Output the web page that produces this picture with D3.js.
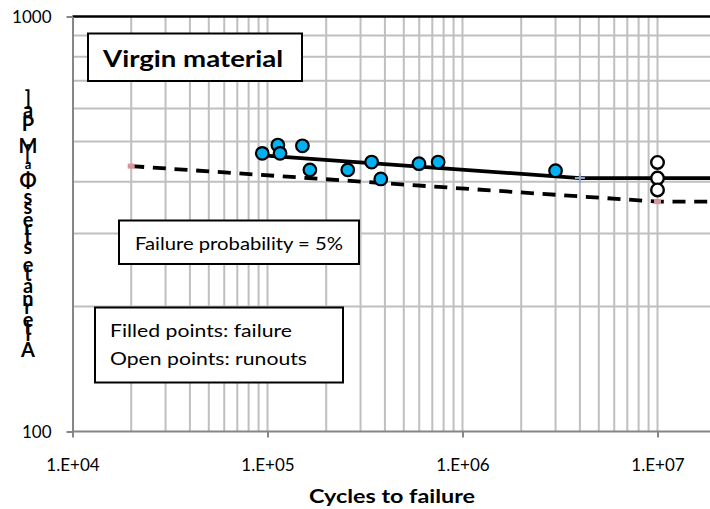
<!DOCTYPE html>
<html><head><meta charset="utf-8">
<script src="https://cdn.jsdelivr.net/npm/d3@7"></script>
<style>body{margin:0;background:#fff}svg{display:block}</style>
</head><body>
<svg id="c" width="710" height="509"></svg>
<script>
// ---- data ----
const failureCycles = [9.4e4, 1.13e5, 1.16e5, 1.51e5, 1.65e5, 2.58e5, 3.42e5, 3.81e5, 5.98e5, 7.5e5, 3.0e6];
const failureStress = [468, 490, 468, 488, 427, 427, 446, 406, 442, 446, 425];
const runoutCycles = [1e7, 1e7, 1e7];
const runoutStress = [445, 408, 382];
const meanCurveCycles = [9.4e4, 4.0e6, 1e8];
const meanCurveStress = [463, 408, 408];
const p5CurveCycles = [2.0e4, 1.0e7, 1e8];
const p5CurveStress = [436, 358, 358];
const kneeCycles = [4.0e6];
const kneeStress = [408];
const p5MarkCycles = [2.0e4, 1.0e7];
const p5MarkStress = [436, 358];
const xTickValues = [1e4, 1e5, 1e6, 1e7];
const xTickLabels = ["1.E+04", "1.E+05", "1.E+06", "1.E+07"];
const yTickValues = [100, 1000];
const yTickLabels = ["100", "1000"];

const svg = d3.select("#c");
const FONT = "Lato, 'Open Sans', sans-serif";
const x = d3.scaleLog().domain([1e4, 1e8]).range([72.5, 852.5]);
const y = d3.scaleLog().domain([100, 1000]).range([431.5, 16.5]);
const xR = 710;

// grid
const g = svg.append("g");
const vgrid = [];
for (let k = 4; k <= 7; k++) for (let m = 1; m <= 9; m++) vgrid.push(m * Math.pow(10, k));
vgrid.push(1e8);
g.selectAll("line.v").data(vgrid.filter(v => v > 1e4 && x(v) < xR + 2)).join("line")
  .attr("x1", d => x(d)).attr("x2", d => x(d)).attr("y1", y(1000)).attr("y2", y(100))
  .attr("stroke", "#bfbfbf").attr("stroke-width", 2);
const hgrid = [200, 300, 400, 500, 600, 700, 800, 900];
g.selectAll("line.h").data(hgrid).join("line")
  .attr("x1", x(1e4)).attr("x2", xR).attr("y1", d => y(d)).attr("y2", d => y(d))
  .attr("stroke", "#bfbfbf").attr("stroke-width", 2);

// top border
svg.append("line").attr("x1", x(1e4)).attr("x2", xR).attr("y1", y(1000)).attr("y2", y(1000))
  .attr("stroke", "#000").attr("stroke-width", 2.5);

// axes
const xAxis = d3.axisBottom(x).tickValues(xTickValues).tickFormat((d, i) => xTickLabels[i]).tickSize(6).tickSizeOuter(0);
const ax = svg.append("g").attr("transform", `translate(0,${y(100)})`).call(xAxis);
ax.select(".domain").attr("d", `M${x(1e4)},0H${xR}`).attr("stroke", "#868686").attr("stroke-width", 2);
ax.selectAll(".tick line").attr("stroke", "#868686").attr("stroke-width", 2);
ax.selectAll(".tick text").attr("font-family", FONT).attr("font-size", 17).attr("fill", "#000").attr("dy", 0).attr("y", 39);

const yAxis = d3.axisLeft(y).tickValues(yTickValues).tickFormat((d, i) => yTickLabels[i]).tickSize(6).tickSizeOuter(0);
const ay = svg.append("g").attr("transform", `translate(${x(1e4)},0)`).call(yAxis);
ay.select(".domain").attr("stroke", "#868686").attr("stroke-width", 2);
ay.selectAll(".tick line").attr("stroke", "#868686").attr("stroke-width", 2);
ay.selectAll(".tick text").attr("font-family", FONT).attr("font-size", 17).attr("fill", "#000").attr("x", -21).attr("dy", "0.35em");

// x title
svg.append("text").attr("x", 392).attr("y", 503).attr("text-anchor", "middle")
  .attr("font-family", FONT).attr("font-weight", "bold").attr("font-size", 19)
  .attr("textLength", 166).attr("lengthAdjust", "spacingAndGlyphs").text("Cycles to failure");

// y title: upright glyphs stacked bottom-to-top
const yTitleChars = ["A","l","t","e","r","n","a","t","e"," ","s","t","r","e","s","s"," ","Φ","a","[","M","P","a","]"];
const yTitleSub = [false,false,false,false,false,false,false,false,false,false,false,false,false,false,false,false,false,false,true,false,false,false,false,false];
(function(){
  const tmp = svg.append("text").attr("font-family", FONT).attr("font-weight", "bold").attr("font-size", 17);
  const widths = yTitleChars.map((c, i) => {
    tmp.attr("font-size", yTitleSub[i] ? 12 : 17).text(c === " " ? "\u00a0" : c);
    return tmp.node().getComputedTextLength();
  });
  tmp.remove();
  const total = d3.sum(widths);
  const bottom = 357, top = 98;
  const k = (bottom - top) / total;
  let pos = 0;
  const yt = svg.append("g");
  yTitleChars.forEach((c, i) => {
    if (c !== " ") {
      yt.append("text").attr("x", 28).attr("y", bottom - pos * k)
        .attr("text-anchor", "middle").attr("font-family", FONT).attr("font-weight", "bold")
        .attr("font-size", yTitleSub[i] ? 13 : 20).text(c);
    }
    pos += widths[i];
  });
})();

// text boxes
function box(x0, y0, w, h) {
  svg.append("rect").attr("x", x0).attr("y", y0).attr("width", w).attr("height", h)
    .attr("fill", "#fff").attr("stroke", "#000").attr("stroke-width", 2);
}
box(88, 33.5, 214, 47.5);
svg.append("text").attr("x", 103).attr("y", 67).attr("font-family", FONT).attr("font-weight", "bold")
  .attr("font-size", 23).attr("textLength", 180).attr("lengthAdjust", "spacingAndGlyphs").text("Virgin material");
box(119, 220.5, 240, 43.5);
svg.append("text").attr("x", 135).attr("y", 250).attr("font-family", FONT)
  .attr("font-size", 18).attr("textLength", 208).attr("lengthAdjust", "spacingAndGlyphs").text("Failure probability = 5%");
box(95, 307.5, 248, 75);
svg.append("text").attr("x", 110).attr("y", 337).attr("font-family", FONT)
  .attr("font-size", 18).attr("textLength", 182).attr("lengthAdjust", "spacingAndGlyphs").text("Filled points: failure");
svg.append("text").attr("x", 110).attr("y", 365).attr("font-family", FONT)
  .attr("font-size", 18).attr("textLength", 197).attr("lengthAdjust", "spacingAndGlyphs").text("Open points: runouts");

// curves
const line = d3.line().x(d => x(d[0])).y(d => y(d[1]));
svg.append("path").datum(p5CurveCycles.map((c, i) => [c, p5CurveStress[i]]))
  .attr("d", line).attr("fill", "none").attr("stroke", "#000").attr("stroke-width", 3.8)
  .attr("stroke-dasharray", "13,8.7");
svg.append("path").datum(meanCurveCycles.map((c, i) => [c, meanCurveStress[i]]))
  .attr("d", line).attr("fill", "none").attr("stroke", "#000").attr("stroke-width", 3.8);

// curve markers
svg.selectAll("rect.p5").data(p5MarkCycles.map((c, i) => [c, p5MarkStress[i]])).join("rect")
  .attr("x", d => x(d[0]) - 3.5).attr("y", d => y(d[1]) - 2.5).attr("width", 7).attr("height", 5)
  .attr("fill", "#d9959a");
svg.selectAll("path.knee").data(kneeCycles.map((c, i) => [c, kneeStress[i]])).join("path")
  .attr("d", d => `M${x(d[0]) - 5},${y(d[1])}H${x(d[0]) + 5}M${x(d[0])},${y(d[1]) - 5}V${y(d[1]) + 5}`)
  .attr("stroke", "#8ea9c9").attr("stroke-width", 2);

// points
svg.selectAll("circle.f").data(failureCycles.map((c, i) => [c, failureStress[i]])).join("circle")
  .attr("cx", d => x(d[0])).attr("cy", d => y(d[1])).attr("r", 6.3)
  .attr("fill", "#00b0f0").attr("stroke", "#000").attr("stroke-width", 2.2);
svg.selectAll("circle.r").data(runoutCycles.map((c, i) => [c, runoutStress[i]])).join("circle")
  .attr("cx", d => x(d[0])).attr("cy", d => y(d[1])).attr("r", 6.3)
  .attr("fill", "#fff").attr("stroke", "#000").attr("stroke-width", 2.4);
</script>
</body></html>
